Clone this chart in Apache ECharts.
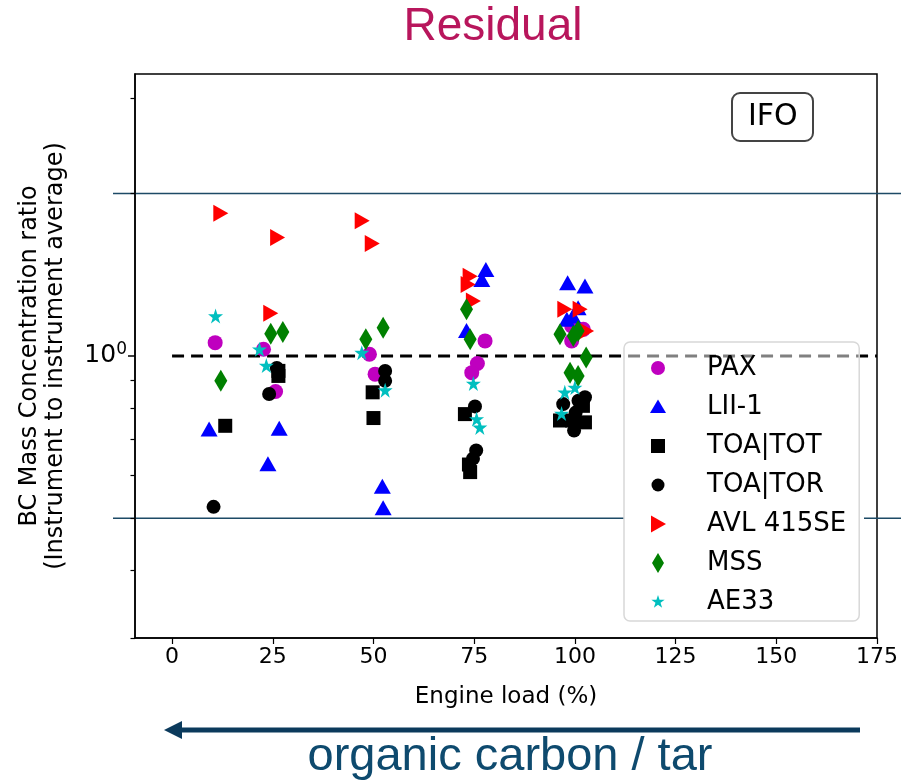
<!DOCTYPE html>
<html>
<head>
<meta charset="utf-8">
<script src="https://cdn.jsdelivr.net/npm/echarts@6/dist/echarts.min.js"></script>
<style>
html,body{margin:0;padding:0;background:#fff}
#main{width:901px;height:780px}
</style>
</head>
<body>
<div id="main"></div>
<script>
// valeurs (charge moteur %, ratio)
var pax  = [[10.7,1.058],[22.7,1.029],[25.7,0.859],[49.0,1.007],[50.4,0.925],[77.7,1.066],[75.8,0.968],[74.4,0.931],[99.2,1.136],[102.1,1.120],[99.2,1.066]];
var lii  = [[9.2,0.732],[26.6,0.734],[23.8,0.631],[52.2,0.573],[52.4,0.523],[77.9,1.446],[76.9,1.386],[73.1,1.115],[98.2,1.366],[102.5,1.347],[100.8,1.228],[98.0,1.169],[99.5,1.185]];
var tot  = [[13.2,0.742],[26.4,0.938],[26.4,0.918],[49.8,0.856],[50.0,0.767],[72.7,0.780],[73.7,0.629],[74.0,0.609],[96.3,0.759],[102.5,0.753],[102.0,0.808],[99.3,0.759]];
var tor  = [[10.3,0.525],[26.0,0.950],[24.1,0.850],[52.9,0.938],[52.9,0.899],[75.2,0.806],[75.5,0.668],[74.7,0.645],[97.1,0.814],[102.5,0.838],[99.8,0.727],[100.9,0.826],[100.2,0.785]];
var avl  = [[12.1,1.839],[26.2,1.658],[24.5,1.199],[47.2,1.781],[49.7,1.615],[74.0,1.405],[73.5,1.356],[74.8,1.264],[97.5,1.220],[101.3,1.220],[102.9,1.112]];
var mss  = [[12.1,0.899],[24.5,1.099],[27.5,1.107],[48.1,1.074],[52.4,1.128],[73.1,1.220],[74.0,1.074],[96.3,1.097],[99.6,1.089],[100.8,1.112],[102.8,0.993],[98.8,0.931],[100.8,0.918]];
var ae33 = [[10.8,1.185],[21.7,1.029],[23.4,0.960],[47.1,1.014],[52.9,0.864],[74.8,0.889],[75.6,0.764],[76.4,0.737],[97.5,0.856],[100.0,0.874],[96.7,0.782]];

var refLine = [[0,1],[175,1]];     // ligne pointillée ratio = 1
var refLevels = [2, 0.5];          // lignes horizontales
var xTicks = [0,25,50,75,100,125,150,175];
var yMinorTicks = [0.3,0.4,0.5,0.6,0.7,0.8,0.9,2,3];
var yMajorTicks = [1];

// étoile 5 branches (marqueur AE33)
function starPts(R){
  var p = [], r = R*0.382;
  for (var i = 0; i < 10; i++) {
    var a = -Math.PI/2 + i*Math.PI/5;
    var rr = (i % 2 === 0) ? R : r;
    p.push((i === 0 ? 'M' : 'L') + (rr*Math.cos(a)).toFixed(2) + ',' + (rr*Math.sin(a)).toFixed(2));
  }
  return p.join(' ') + ' Z';
}
function circ(r){
  return 'M' + r + ',0 A' + r + ',' + r + ' 0 1,1 ' + (-r) + ',0 A' + r + ',' + r + ' 0 1,1 ' + r + ',0 Z';
}
var PAD = 'M-10,-10 M10,10 ';   // boîte commune 20x20 pour les icônes de légende
var STAR = 'path://' + starPts(10);
var RTRI = 'path://M0,0 L10,6 L0,12 Z';
var DIAM = 'path://M5,0 L10,9 L5,18 L0,9 Z';

var icons = {
  pax:  'path://' + PAD + circ(7),
  lii:  'path://' + PAD + 'M-8,6 L8,6 L0,-7.5 Z',
  tot:  'path://' + PAD + 'M-7,-7 L7,-7 L7,7 L-7,7 Z',
  tor:  'path://' + PAD + circ(6.5),
  avl:  'path://' + PAD + 'M-7,-8.5 L8,0 L-7,8.5 Z',
  mss:  'path://' + PAD + 'M0,-10 L6,0 L0,10 L-6,0 Z',
  ae33: 'path://' + PAD + starPts(7)
};

var FONT = 'DejaVu Sans';
var chart = echarts.init(document.getElementById('main'));

function sc(name, data, color, symbol, size){
  return {
    name: name, type: 'scatter', data: data,
    symbol: symbol, symbolSize: size,
    itemStyle: {color: color, opacity: 1},
    emphasis: {disabled: true},
    z: 3
  };
}

var option = {
  animation: false,
  grid: {left: 135, right: 24, top: 74, bottom: 142, show: true, borderColor: '#000', borderWidth: 1.5, backgroundColor: 'transparent'},
  xAxis: {
    type: 'value', min: -9.2, max: 175,
    axisLine: {onZero: false, lineStyle: {color: '#000', width: 1.5}},
    axisTick: {show: true, customValues: xTicks, length: 6, lineStyle: {color: '#000', width: 1.2}},
    axisLabel: {customValues: xTicks, color: '#000', fontFamily: FONT, fontSize: 22, margin: 8},
    splitLine: {show: false},
    name: 'Engine load (%)', nameLocation: 'middle', nameGap: 48,
    nameTextStyle: {color: '#000', fontFamily: FONT, fontSize: 23}
  },
  yAxis: [{
    type: 'log', logBase: 10, min: 0.3, max: 3.33,
    axisLine: {show: true, onZero: false, lineStyle: {color: '#000', width: 1.5}},
    axisTick: {show: true, customValues: yMinorTicks, length: 4.5, lineStyle: {color: '#000', width: 1.2}},
    axisLabel: {show: false},
    splitLine: {show: false},
    name: 'BC Mass Concentration ratio\n(Instrument to instrument average)',
    nameLocation: 'middle', nameRotate: 90, nameGap: 66,
    nameTextStyle: {color: '#000', fontFamily: FONT, fontSize: 24, lineHeight: 26}
  }, {
    type: 'log', logBase: 10, min: 0.3, max: 3.33, position: 'left',
    axisLine: {show: false, onZero: false},
    axisTick: {show: true, customValues: yMajorTicks, length: 7, lineStyle: {color: '#000', width: 1.5}},
    axisLabel: {
      customValues: yMajorTicks, margin: 8,
      formatter: function(){ return '10{sup|0}'; },
      color: '#000', fontFamily: FONT, fontSize: 25,
      rich: {sup: {fontFamily: FONT, fontSize: 17, verticalAlign: 'top', padding: [0,0,13,0], color: '#000'}}
    },
    splitLine: {show: false}
  }],
  legend: {
    orient: 'vertical', left: 624, top: 342,
    padding: [11, 13, 4, 24],
    itemWidth: 24, itemHeight: 20, itemGap: 9,
    backgroundColor: 'rgba(255,255,255,0.5)', borderColor: '#d8d8d8', borderWidth: 1.5, borderRadius: 6,
    textStyle: {fontFamily: FONT, fontSize: 26, color: '#000', lineHeight: 30, padding: [0,0,0,32]},
    selectedMode: false, z: 10,
    data: [
      {name: 'PAX', icon: icons.pax},
      {name: 'LII-1', icon: icons.lii},
      {name: 'TOA|TOT', icon: icons.tot},
      {name: 'TOA|TOR', icon: icons.tor},
      {name: 'AVL 415SE', icon: icons.avl},
      {name: 'MSS', icon: icons.mss},
      {name: 'AE33', icon: icons.ae33}
    ]
  },
  title: {
    text: 'IFO', left: 732, top: 93, padding: [9, 16],
    borderColor: '#444', borderWidth: 2, borderRadius: 8, backgroundColor: '#fff',
    textStyle: {fontFamily: FONT, fontSize: 30, fontWeight: 'normal', color: '#000'}
  },
  series: [
    {
      name: 'ref', type: 'line', data: refLine, symbol: 'none', silent: true, z: 2,
      lineStyle: {color: '#000', width: 3, type: [12, 7]}
    },
    sc('PAX', pax, '#bf00bf', 'circle', 15),
    sc('LII-1', lii, '#0000ff', 'triangle', [17, 15]),
    sc('TOA|TOT', tot, '#000000', 'rect', 14),
    sc('TOA|TOR', tor, '#000000', 'circle', 14),
    sc('AVL 415SE', avl, '#ff0000', RTRI, [15, 17]),
    sc('MSS', mss, '#008000', DIAM, [13, 22]),
    sc('AE33', ae33, '#00bfbf', STAR, 15)
  ]
};
chart.setOption(option);

// lignes horizontales, titre, flèche
var gr = [];
refLevels.forEach(function(v){
  var py = chart.convertToPixel({yAxisIndex: 0}, v);
  gr.push({type: 'line', z: 0, silent: true,
    shape: {x1: 113, y1: py, x2: 901, y2: py},
    style: {stroke: '#1d4a66', lineWidth: 1.5}});
});
gr.push({type: 'rect', z: 1, silent: true, shape: {x: 624, y: 342, width: 240, height: 280}, style: {fill: '#fff'}});
gr.push({type: 'text', x: 493, y: 27, silent: true,
  style: {text: 'Residual', fontFamily: 'Liberation Sans', fontSize: 46, fill: '#b8165c', align: 'center', verticalAlign: 'middle'}});
gr.push({type: 'line', silent: true, shape: {x1: 860, y1: 730, x2: 176, y2: 730},
  style: {stroke: '#0b3a5c', lineWidth: 5}});
gr.push({type: 'polygon', silent: true, shape: {points: [[164,730],[182,721],[182,739]]},
  style: {fill: '#0b3a5c'}});
gr.push({type: 'text', x: 510, y: 757, silent: true,
  style: {text: 'organic carbon / tar', fontFamily: 'Liberation Sans', fontSize: 47, fill: '#0e4a6e', align: 'center', verticalAlign: 'middle'}});
chart.setOption({graphic: gr});
</script>
</body>
</html>
